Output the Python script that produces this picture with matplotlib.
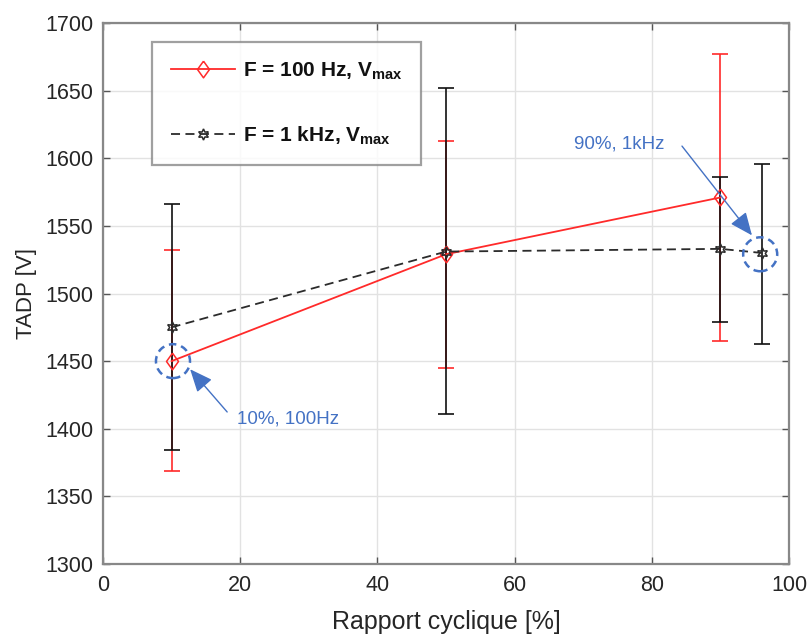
import numpy as np
import matplotlib.pyplot as plt
from matplotlib.patches import Ellipse

plt.rcParams['font.family'] = ['Liberation Sans', 'DejaVu Sans']
plt.rcParams['mathtext.fontset'] = 'custom'
plt.rcParams['mathtext.rm'] = 'Liberation Sans'
plt.rcParams['mathtext.bf'] = 'Liberation Sans:bold'

# donnees
x_100 = [10, 50, 90]
y_100 = [1450, 1529, 1571]
lo_100 = [1369, 1445, 1465]
hi_100 = [1532, 1613, 1677]

x_1k = [10, 50, 90, 96]
y_1k = [1475, 1531, 1533, 1530]
lo_1k = [1384, 1411, 1479, 1463]
hi_1k = [1566, 1652, 1586, 1596]

lab_100 = r'F = 100 Hz, V$_{\mathbf{max}}$'
lab_1k = r'F = 1 kHz, V$_{\mathbf{max}}$'

rouge = '#ff2a2a'
noir = '#2b2b2b'
bleu = '#4472c4'
txt = '#262626'

losange = [(0, 1), (0.72, 0), (0, -1), (-0.72, 0), (0, 1)]

fig = plt.figure(figsize=(8.08, 6.34), dpi=100)
ax = fig.add_axes([103/808, 1-564/634, 686/808, 541/634])

err_100 = [np.array(y_100)-np.array(lo_100), np.array(hi_100)-np.array(y_100)]
err_1k = [np.array(y_1k)-np.array(lo_1k), np.array(hi_1k)-np.array(y_1k)]

ax.errorbar(x_1k, y_1k, yerr=err_1k, fmt='none', ecolor='#111111',
            elinewidth=1.2, capsize=6, capthick=1.2, zorder=3)
ax.errorbar(x_100, y_100, yerr=err_100, fmt='none', ecolor=rouge,
            elinewidth=1.2, capsize=6, capthick=1.2, zorder=2)

ax.plot(x_100, y_100, '-', color=rouge, lw=1.3, marker=losange, ms=12,
        mfc='none', mec=rouge, mew=1.1, label=lab_100, zorder=4)
ax.plot(x_1k, y_1k, '--', color=noir, lw=1.3, dashes=(5, 3), marker=(6, 1, 0), ms=8,
        mfc='none', mec=noir, mew=1.1, label=lab_1k, zorder=5)

# cercles et fleches
for cx, cy in [(10.2, 1450), (95.8, 1529)]:
    ax.add_patch(Ellipse((cx, cy), 4.96, 25.1, fill=False, ec=bleu, lw=1.8,
                         ls=(0, (3, 2)), zorder=6))

fleche = dict(arrowstyle='-|>,head_length=0.7,head_width=0.3', color=bleu, lw=1,
              mutation_scale=20, shrinkA=0, shrinkB=0)
ax.annotate('', xy=(12.7, 1444), xytext=(18.1, 1412.4), arrowprops=fleche, zorder=7)
ax.annotate('', xy=(94.6, 1543), xytext=(84.4, 1609), arrowprops=fleche, zorder=7)
ax.text(19.5, 1407, '10%, 100Hz', color=bleu, fontsize=13.5, va='center', ha='left')
ax.text(81.9, 1610.5, '90%, 1kHz', color=bleu, fontsize=13.5, va='center', ha='right')

ax.set_xlim(0, 100)
ax.set_ylim(1300, 1700)
ax.set_xticks(np.arange(0, 101, 20))
ax.set_yticks(np.arange(1300, 1701, 50))
ax.grid(True, color='#e2e2e2', lw=1)
ax.set_axisbelow(True)
ax.tick_params(direction='in', length=5, top=True, right=True, colors='#555555',
               labelcolor=txt, labelsize=15.5, width=1)
ax.tick_params(axis='x', pad=8)
ax.tick_params(axis='y', pad=7)
for s in ax.spines.values():
    s.set_color('#888888')
    s.set_linewidth(1.6)

ax.set_xlabel('Rapport cyclique [%]', fontsize=18, color=txt, labelpad=10)
ax.set_ylabel('TADP [V]', fontsize=16, color=txt, labelpad=6)

leg = ax.legend(loc='upper left', bbox_to_anchor=(0.0714, 0.965), borderaxespad=0,
                fancybox=False, edgecolor='#888888', handlelength=3.1,
                prop={'weight': 'bold', 'size': 15}, borderpad=0.9,
                labelspacing=2.0, handletextpad=0.35)
leg.get_frame().set_linewidth(1.6)
for t in leg.get_texts():
    t.set_color('#111111')

plt.savefig('out.png', dpi=100)
